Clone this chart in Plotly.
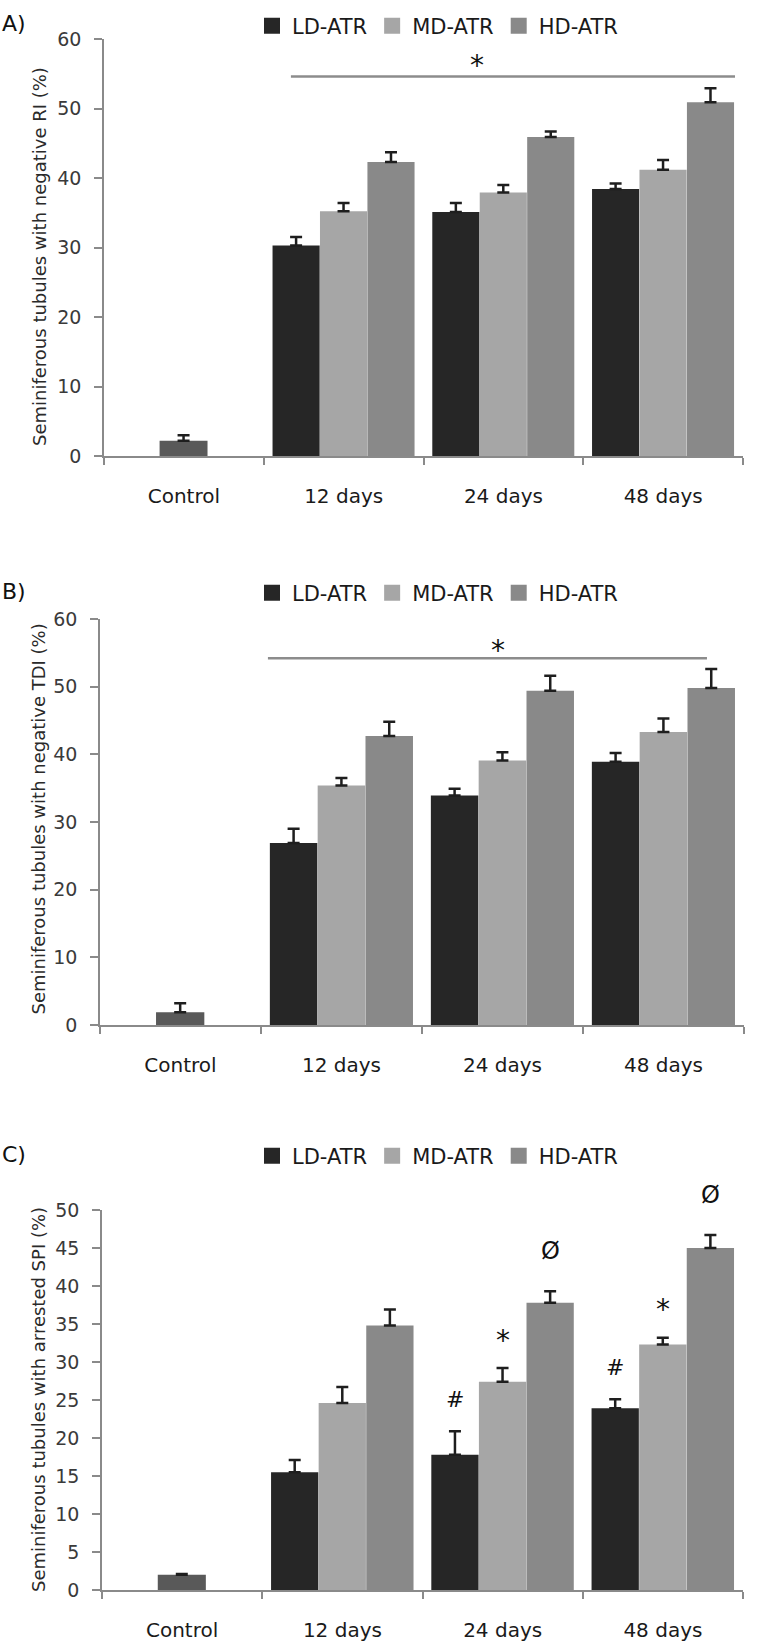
import plotly.graph_objects as go

# ---------------- data ----------------
categories = ["Control", "12 days", "24 days", "48 days"]
treat_cats = ["12 days", "24 days", "48 days"]
series_names = ["LD-ATR", "MD-ATR", "HD-ATR"]

# Panel A: negative RI (%)
a_control = [2.2]
a_control_err = [0.8]
a_ld = [30.3, 35.1, 38.4]
a_ld_err = [1.2, 1.3, 0.8]
a_md = [35.2, 37.9, 41.2]
a_md_err = [1.2, 1.1, 1.4]
a_hd = [42.3, 45.9, 50.9]
a_hd_err = [1.4, 0.8, 2.0]

# Panel B: negative TDI (%)
b_control = [1.9]
b_control_err = [1.3]
b_ld = [26.9, 33.9, 38.9]
b_ld_err = [2.1, 1.0, 1.3]
b_md = [35.4, 39.1, 43.3]
b_md_err = [1.1, 1.2, 2.0]
b_hd = [42.7, 49.4, 49.8]
b_hd_err = [2.1, 2.2, 2.8]

# Panel C: arrested SPI (%)
c_control = [2.0]
c_control_err = [0.1]
c_ld = [15.5, 17.8, 23.9]
c_ld_err = [1.6, 3.1, 1.2]
c_md = [24.6, 27.4, 32.3]
c_md_err = [2.1, 1.8, 0.9]
c_hd = [34.8, 37.8, 45.0]
c_hd_err = [2.1, 1.5, 1.7]

# significance marks in panel C: (category, series index, symbol)
c_marks = [("24 days", 0, "#"), ("24 days", 1, "*"), ("24 days", 2, "Ø"),
           ("48 days", 0, "#"), ("48 days", 1, "*"), ("48 days", 2, "Ø")]

y_titles = ["Seminiferous tubules with negative RI (%)",
            "Seminiferous tubules with negative TDI (%)",
            "Seminiferous tubules with arrested SPI (%)"]
panel_letters = ["A)", "B)", "C)"]

# ---------------- style ----------------
W, H = 758, 1651
FONT = "DejaVu Sans"
colors = ["#262626", "#a6a6a6", "#898989"]
control_color = "#595959"
axis_color = "#8a8a8a"
err_color = "#1e1e1e"
bar_w = 0.295
offsets = [-0.445, -0.148, 0.149]

def px_x(p):
    return p / W

def px_y(p):
    return 1 - p / H

panels = [
    dict(ctrl=a_control, ctrl_err=a_control_err, vals=[a_ld, a_md, a_hd],
         errs=[a_ld_err, a_md_err, a_hd_err], ymax=60, dtick=10,
         xdom=(104, 743), ydom=(456, 39), legend_y=26, title_x=39, title_y=257),
    dict(ctrl=b_control, ctrl_err=b_control_err, vals=[b_ld, b_md, b_hd],
         errs=[b_ld_err, b_md_err, b_hd_err], ymax=60, dtick=10,
         xdom=(100, 744), ydom=(1025, 619), legend_y=593, title_x=37.5, title_y=819),
    dict(ctrl=c_control, ctrl_err=c_control_err, vals=[c_ld, c_md, c_hd],
         errs=[c_ld_err, c_md_err, c_hd_err], ymax=50, dtick=5,
         xdom=(102, 743), ydom=(1590, 1210), legend_y=1156, title_x=38, title_y=1400),
]

fig = go.Figure()
annotations = []
shapes = []
layout_axes = {}

for i, p in enumerate(panels):
    n = "" if i == 0 else str(i + 1)
    xa, ya = "x" + n, "y" + n
    leg = "legend" + n
    # control bar
    fig.add_trace(go.Bar(
        x=["Control"], y=p["ctrl"], xaxis=xa, yaxis=ya,
        width=0.3, offset=-0.152, marker=dict(color=control_color, line=dict(width=0)),
        error_y=dict(type="data", array=p["ctrl_err"], arrayminus=[0] * len(p["ctrl"]),
                     symmetric=False, color=err_color, thickness=2.5, width=6),
        showlegend=False, hoverinfo="skip"))
    for s in range(3):
        fig.add_trace(go.Bar(
            x=treat_cats, y=p["vals"][s], xaxis=xa, yaxis=ya, name=series_names[s],
            width=bar_w, offset=offsets[s],
            marker=dict(color=colors[s], line=dict(width=0)),
            error_y=dict(type="data", array=p["errs"][s], arrayminus=[0] * 3,
                         symmetric=False, color=err_color, thickness=2.5, width=6),
            showlegend=False))
    # legend proxies
    for s in range(3):
        fig.add_trace(go.Scatter(
            x=[None], y=[None], xaxis=xa, yaxis=ya, mode="markers", name=series_names[s],
            marker=dict(symbol="square", size=16, color=colors[s]),
            legend=leg, showlegend=True))

    layout_axes["xaxis" + n] = dict(
        domain=[px_x(p["xdom"][0]), px_x(p["xdom"][1])], anchor=ya,
        type="category", categoryorder="array", categoryarray=categories,
        range=[-0.5, 3.5], showline=True, linecolor=axis_color, linewidth=1.5,
        ticks="outside", tickson="boundaries", ticklen=7, tickcolor=axis_color, tickwidth=1.5,
        showgrid=False, zeroline=False, ticklabelstandoff=21, automargin=False,
        tickfont=dict(family=FONT, size=20, color="#1a1a1a"), fixedrange=True)
    layout_axes["yaxis" + n] = dict(
        domain=[px_y(p["ydom"][0]), px_y(p["ydom"][1])], anchor=xa,
        range=[0, p["ymax"]], dtick=p["dtick"], tick0=0,
        showline=True, linecolor=axis_color, linewidth=1.5,
        ticks="outside", ticklen=8, tickcolor=axis_color, tickwidth=1.5,
        showgrid=False, zeroline=False, ticklabelstandoff=9, automargin=False,
        tickfont=dict(family=FONT, size=19, color="#3a3a3a"), fixedrange=True)
    layout_axes[leg] = dict(
        orientation="h", x=px_x(252), xanchor="left", y=px_y(p["legend_y"]), yanchor="middle",
        font=dict(family=FONT, size=21, color="#1a1a1a"), bgcolor="rgba(0,0,0,0)",
        itemclick=False, itemdoubleclick=False)

    # y title
    annotations.append(dict(
        text=y_titles[i], xref="paper", yref="paper", x=px_x(p["title_x"]), y=px_y(p["title_y"]),
        xanchor="center", yanchor="middle", textangle=-90, showarrow=False,
        font=dict(family=FONT, size=18, color="#2a2a2a")))
    # panel letter
    annotations.append(dict(
        text=panel_letters[i], xref="paper", yref="paper", x=0, y=px_y(p["legend_y"] - 2),
        xanchor="left", yanchor="middle", showarrow=False,
        font=dict(family=FONT, size=22, color="#111111")))

# significance bars for panels A and B
sig_specs = [("x", "y", 0.67, 3.45, 54.6, 1.835, 57.0),
             ("x2", "y2", 0.543, 3.27, 54.2, 1.97, 56.2)]
for xa, ya, x0, x1, yl, xs, ys in sig_specs:
    shapes.append(dict(type="line", xref=xa, yref=ya, x0=x0, x1=x1, y0=yl, y1=yl,
                       line=dict(color="#8c8c8c", width=2.5)))
    annotations.append(dict(text="*", xref=xa, yref=ya, x=xs, y=ys, yshift=-6, showarrow=False,
                            xanchor="center", yanchor="middle",
                            font=dict(family=FONT, size=28, color="#111111")))

# marks in panel C
c_vals = [c_ld, c_md, c_hd]
c_errs = [c_ld_err, c_md_err, c_hd_err]
mark_shift = {"#": 32, "*": 28, "Ø": 40}
mark_size = {"#": 22, "*": 28, "Ø": 24}
for cat, s, sym in c_marks:
    j = treat_cats.index(cat)
    xc = categories.index(cat) + offsets[s] + bar_w / 2
    top = c_vals[s][j] + c_errs[s][j]
    annotations.append(dict(text=sym, xref="x3", yref="y3", x=xc, y=top, yshift=mark_shift[sym],
                            showarrow=False, xanchor="center", yanchor="middle",
                            font=dict(family=FONT, size=mark_size[sym], color="#111111")))

fig.update_layout(
    width=W, height=H, margin=dict(l=0, r=0, t=0, b=0, autoexpand=False),
    paper_bgcolor="white", plot_bgcolor="white",
    barmode="overlay", showlegend=True, hovermode=False,
    annotations=annotations, shapes=shapes,
    **layout_axes)

fig.write_html("out.html", config={"displayModeBar": False},
               post_script="document.body.style.margin='0px';")
